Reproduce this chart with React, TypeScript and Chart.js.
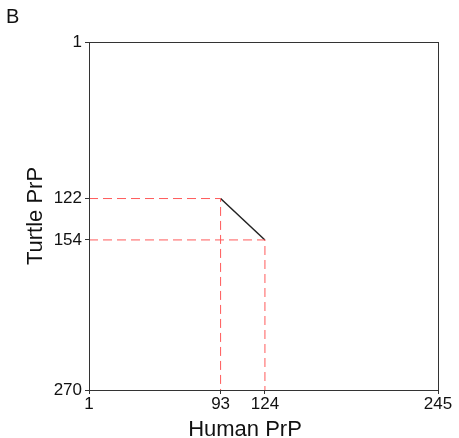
import React, { useEffect, useRef } from "react";
import { Chart, registerables } from "chart.js";

Chart.register(...registerables);

const humanPositions = [93, 124];
const turtlePositions = [122, 154];
const xRange = [1, 245];
const yRange = [1, 270];
const xTicks = [1, 93, 124, 245];
const yTicks = [1, 122, 154, 270];
const xTitle = "Human PrP";
const yTitle = "Turtle PrP";
const panelLabel = "B";

const FONT = "'Liberation Sans', Arial, sans-serif";

export default function App() {
  const ref = useRef<HTMLCanvasElement | null>(null);
  useEffect(() => {
    if (!ref.current) return;
    const red = "#ff5a5a";
    const guides: any[] = humanPositions.map((hx, i) => ({
      data: [
        { x: xRange[0], y: turtlePositions[i] },
        { x: hx, y: turtlePositions[i] },
        { x: hx, y: yRange[1] },
      ],
      borderColor: red,
      borderWidth: 1,
      borderDash: [9, 5],
      pointRadius: 0,
      showLine: true,
      fill: false,
    }));
    const main = {
      data: humanPositions.map((hx, i) => ({ x: hx, y: turtlePositions[i] })),
      borderColor: "#222",
      borderWidth: 1.5,
      pointRadius: 0,
      showLine: true,
      fill: false,
    };
    const decor = {
      id: "decor",
      afterDraw(chart: any) {
        const { ctx, chartArea } = chart;
        ctx.save();
        ctx.strokeStyle = "#333";
        ctx.lineWidth = 1;
        ctx.strokeRect(
          Math.round(chartArea.left) + 0.5,
          Math.round(chartArea.top) + 0.5,
          Math.round(chartArea.right - chartArea.left),
          Math.round(chartArea.bottom - chartArea.top)
        );
        ctx.fillStyle = "#111";
        ctx.font = `20px ${FONT}`;
        ctx.textAlign = "left";
        ctx.textBaseline = "alphabetic";
        ctx.fillText(panelLabel, 6, 23);
        ctx.font = `22px ${FONT}`;
        ctx.textAlign = "center";
        ctx.fillText(xTitle, 245, 436);
        ctx.translate(42, (chartArea.top + chartArea.bottom) / 2);
        ctx.rotate(-Math.PI / 2);
        ctx.fillText(yTitle, 0, 0);
        ctx.restore();
      },
    };
    const chart = new Chart(ref.current, {
      type: "scatter",
      data: { datasets: [...guides, main] },
      plugins: [decor],
      options: {
        animation: false,
        responsive: false,
        maintainAspectRatio: false,
        layout: { padding: { top: 42, right: 21, left: 0, bottom: 0 } },
        plugins: { legend: { display: false }, tooltip: { enabled: false } },
        scales: {
          x: {
            type: "linear",
            min: xRange[0],
            max: xRange[1],
            afterBuildTicks: (s: any) => {
              s.ticks = xTicks.map((v) => ({ value: v }));
            },
            afterFit: (s: any) => {
              s.height = 48;
            },
            grid: { display: true, drawOnChartArea: false, tickLength: 4, color: "#333" },
            border: { display: false },
            ticks: {
              autoSkip: false,
              maxRotation: 0,
              color: "#111",
              padding: 0,
              font: { family: FONT, size: 17 },
              callback: (v: any) => String(v),
            },
          },
          y: {
            type: "linear",
            reverse: true,
            min: yRange[0],
            max: yRange[1],
            afterBuildTicks: (s: any) => {
              s.ticks = yTicks.map((v) => ({ value: v }));
            },
            afterFit: (s: any) => {
              s.width = 89;
            },
            grid: { display: true, drawOnChartArea: false, tickLength: 4, color: "#333" },
            border: { display: false },
            ticks: {
              autoSkip: false,
              color: "#111",
              padding: 3,
              font: { family: FONT, size: 17 },
              callback: (v: any) => String(v),
            },
          },
        },
      },
    });
    return () => chart.destroy();
  }, []);
  return (
    <div style={{ position: "absolute", left: 0, top: 0, width: 459, height: 438, background: "#fff" }}>
      <canvas ref={ref} width={459} height={438} style={{ width: 459, height: 438 }} />
    </div>
  );
}
